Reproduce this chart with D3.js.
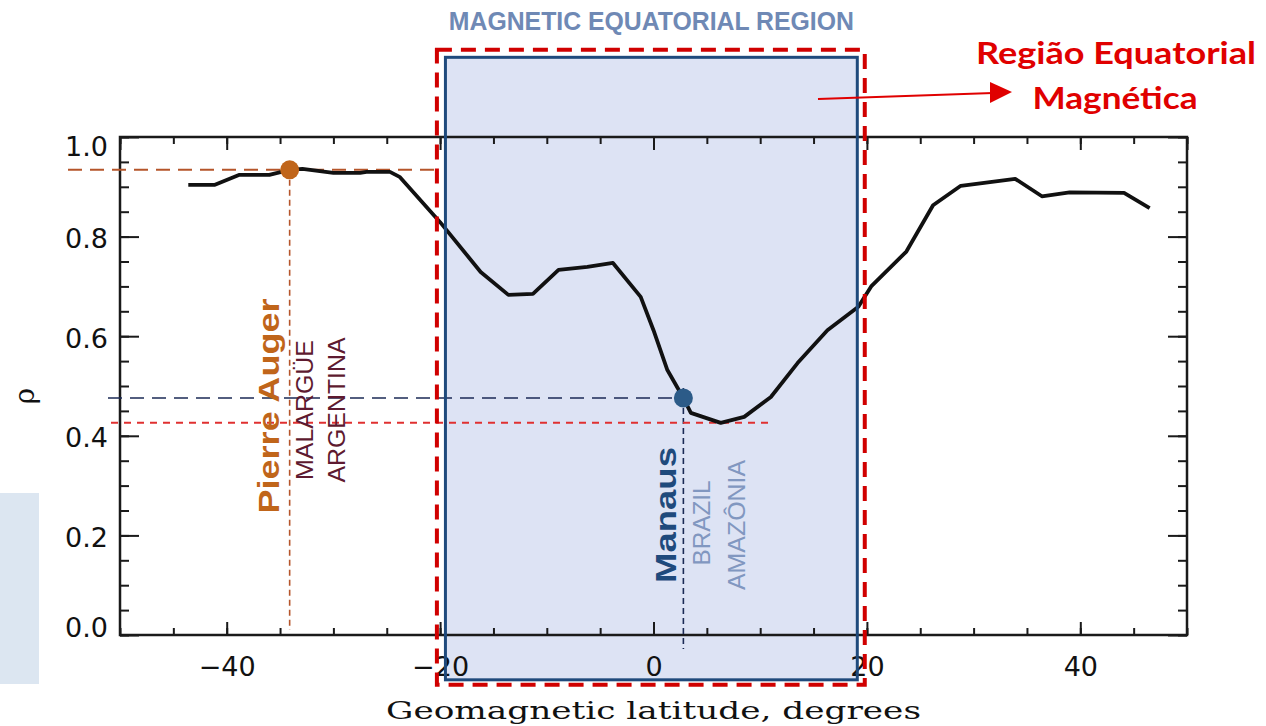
<!DOCTYPE html>
<html>
<head>
<meta charset="utf-8">
<script src="https://cdn.jsdelivr.net/npm/d3@7/dist/d3.min.js"></script>
<style>
  html, body { margin: 0; padding: 0; background: #fff; }
  svg { display: block; }
</style>
</head>
<body>
<svg id="chart" width="1266" height="726"></svg>
<script>
// ---------------- data ----------------
const latitude = [-43.6, -41.1, -38.8, -36.0, -34.1, -32.9, -30.0, -27.5, -26.9, -24.7, -23.8,
  -20.0, -16.2, -13.6, -11.3, -8.9, -6.2, -3.8, -1.2, 0.0, 1.3, 2.8, 3.5, 6.3, 8.5, 11.0,
  13.5, 16.3, 19.2, 20.4, 23.7, 26.2, 28.8, 33.9, 36.4, 39.0, 44.1, 46.5];
const rho = [0.904, 0.904, 0.924, 0.924, 0.934, 0.936, 0.928, 0.928, 0.930, 0.930, 0.920,
  0.829, 0.729, 0.683, 0.685, 0.733, 0.739, 0.747, 0.679, 0.612, 0.532, 0.476, 0.446, 0.426, 0.438, 0.478,
  0.546, 0.612, 0.659, 0.700, 0.770, 0.863, 0.902, 0.916, 0.881, 0.889, 0.888, 0.857];

const xTickValues = [-40, -20, 0, 20, 40];
const xTickLabels = ["\u221240", "\u221220", "0", "20", "40"];
const yTickValues = [0.0, 0.2, 0.4, 0.6, 0.8, 1.0];
const yTickLabels = ["0.0", "0.2", "0.4", "0.6", "0.8", "1.0"];

const sites = ["Pierre Auger", "Manaus"];
const siteLat = [-34.1, 2.8];
const siteRho = [0.934, 0.476];
const minRho = 0.426;
const minLat = 6.3;

const regionLat = [-19.5, 19.1];       // blue region box
const regionRho = [1.16, -0.09];
const dashLat = [-20.3, 19.8];         // red dashed outline
const dashRho = [1.175, -0.10];

const titleText = "MAGNETIC EQUATORIAL REGION";
const ptTitle = ["Região Equatorial", "Magnética"];
const xTitle = "Geomagnetic latitude, degrees";
const yTitle = "\u03c1";

// ---------------- scales ----------------
const x = d3.scaleLinear().domain([-50, 50]).range([120, 1187]);
const y = d3.scaleLinear().domain([0, 1]).range([635, 137]);

const svg = d3.select("#chart");

// left light-blue strip (decor)
svg.append("rect").attr("x", 0).attr("y", 493).attr("width", 39).attr("height", 191)
  .attr("fill", "#dce6f1");

// region fill
const bx0 = x(regionLat[0]), bx1 = x(regionLat[1]), by0 = y(regionRho[0]), by1 = y(regionRho[1]);
svg.append("rect").attr("x", bx0).attr("y", by0).attr("width", bx1 - bx0).attr("height", by1 - by0)
  .attr("fill", "#dde3f4");

// frame
svg.append("rect").attr("x", x(-50)).attr("y", y(1)).attr("width", x(50) - x(-50)).attr("height", y(0) - y(1))
  .attr("fill", "none").attr("stroke", "#1a1a1a").attr("stroke-width", 2.5);

const tickFont = "'DejaVu Sans', sans-serif";
function styleAxis(g) {
  g.select(".domain").remove();
  g.selectAll(".tick line").attr("stroke", "#1a1a1a").attr("stroke-width", 2);
  g.selectAll(".tick text").attr("fill", "#111").style("font-family", tickFont).style("font-size", "27px");
}
const xMinor = d3.range(-50, 51, 5);
const yMinor = d3.range(0, 1.0001, 0.05);

// bottom axis
svg.append("g").attr("transform", `translate(0,${y(0)})`)
  .call(d3.axisBottom(x).tickValues(xMinor).tickSize(-7).tickFormat(""))
  .call(styleAxis);
svg.append("g").attr("transform", `translate(0,${y(0)})`)
  .call(d3.axisBottom(x).tickValues(xTickValues).tickSize(-13).tickPadding(22)
    .tickFormat((d, i) => xTickLabels[i]))
  .call(styleAxis);
// top axis
svg.append("g").attr("transform", `translate(0,${y(1)})`)
  .call(d3.axisTop(x).tickValues(xMinor).tickSize(-7).tickFormat(""))
  .call(styleAxis);
svg.append("g").attr("transform", `translate(0,${y(1)})`)
  .call(d3.axisTop(x).tickValues(xTickValues.concat([-50, 50])).tickSize(-13).tickFormat(""))
  .call(styleAxis);
// left axis
svg.append("g").attr("transform", `translate(${x(-50)},0)`)
  .call(d3.axisLeft(y).tickValues(yMinor).tickSize(-9).tickFormat(""))
  .call(styleAxis);
const la = svg.append("g").attr("transform", `translate(${x(-50)},0)`)
  .call(d3.axisLeft(y).tickValues(yTickValues).tickSize(-19).tickPadding(12)
    .tickFormat((d, i) => yTickLabels[i]))
  .call(styleAxis);
la.selectAll(".tick text").attr("dy", d => d === 1 ? "0.68em" : (d === 0 ? "0.05em" : "0.40em"));
// right axis
svg.append("g").attr("transform", `translate(${x(50)},0)`)
  .call(d3.axisRight(y).tickValues(yMinor).tickSize(-9).tickFormat(""))
  .call(styleAxis);
svg.append("g").attr("transform", `translate(${x(50)},0)`)
  .call(d3.axisRight(y).tickValues(yTickValues).tickSize(-19).tickFormat(""))
  .call(styleAxis);

// axis titles
svg.append("text").attr("x", (x(-50) + x(50)) / 2 + 0).attr("y", 719).attr("text-anchor", "middle")
  .attr("font-family", "'DejaVu Serif', serif").attr("font-size", 25).attr("fill", "#111")
  .attr("textLength", 535).attr("lengthAdjust", "spacingAndGlyphs")
  .text(xTitle);
svg.append("text").attr("transform", `translate(34,${y(0.48)}) rotate(-90)`).attr("text-anchor", "middle")
  .attr("font-family", "'DejaVu Serif', serif").attr("font-size", 28).attr("fill", "#111")
  .text(yTitle);

// reference dashed lines
svg.append("line").attr("x1", 68).attr("x2", x(-20.3)).attr("y1", y(siteRho[0])).attr("y2", y(siteRho[0]))
  .attr("stroke", "#b5552a").attr("stroke-width", 2).attr("stroke-dasharray", "14,8");
svg.append("line").attr("x1", x(siteLat[0])).attr("x2", x(siteLat[0])).attr("y1", y(siteRho[0])).attr("y2", 630)
  .attr("stroke", "#b5552a").attr("stroke-width", 1.6).attr("stroke-dasharray", "6,4");
svg.append("line").attr("x1", 108).attr("x2", x(siteLat[1])).attr("y1", y(siteRho[1])).attr("y2", y(siteRho[1]))
  .attr("stroke", "#1b2a55").attr("stroke-width", 1.6).attr("stroke-dasharray", "14,8");
svg.append("line").attr("x1", x(siteLat[1])).attr("x2", x(siteLat[1])).attr("y1", y(siteRho[1]) - 10).attr("y2", 649)
  .attr("stroke", "#1b2a55").attr("stroke-width", 1.6).attr("stroke-dasharray", "6,4");
svg.append("line").attr("x1", 111).attr("x2", x(minLat) + 53).attr("y1", y(minRho)).attr("y2", y(minRho))
  .attr("stroke", "#e03030").attr("stroke-width", 2).attr("stroke-dasharray", "7,6");

// curve
const pts = latitude.map((d, i) => [d, rho[i]]);
svg.append("path").datum(pts)
  .attr("d", d3.line().x(d => x(d[0])).y(d => y(d[1])))
  .attr("fill", "none").attr("stroke", "#111").attr("stroke-width", 3.8)
  .attr("stroke-linejoin", "round");

// site dots
const dotColors = ["#c0651a", "#2c5b88"];
svg.selectAll("circle.site").data(sites).join("circle").attr("class", "site")
  .attr("cx", (d, i) => x(siteLat[i])).attr("cy", (d, i) => y(siteRho[i])).attr("r", 9.5)
  .attr("fill", (d, i) => dotColors[i]);

// region box outlines
svg.append("rect").attr("x", bx0).attr("y", by0).attr("width", bx1 - bx0).attr("height", by1 - by0)
  .attr("fill", "none").attr("stroke", "#1f4a7c").attr("stroke-width", 3);
const dx0 = x(dashLat[0]), dx1 = x(dashLat[1]), dy0 = y(dashRho[0]), dy1 = y(dashRho[1]);
svg.append("rect").attr("x", dx0).attr("y", dy0).attr("width", dx1 - dx0).attr("height", dy1 - dy0)
  .attr("fill", "none").attr("stroke", "#d00000").attr("stroke-width", 4).attr("stroke-dasharray", "15,9");

// title
svg.append("text").attr("x", (bx0 + bx1) / 2).attr("y", 30).attr("text-anchor", "middle")
  .attr("font-family", "'Liberation Sans', Arial, sans-serif").attr("font-size", 25).attr("font-weight", "bold")
  .attr("fill", "#6f89b5").attr("textLength", 405).attr("lengthAdjust", "spacingAndGlyphs")
  .text(titleText);

// Portuguese label + arrow
svg.append("text").attr("x", 1116).attr("y", 64).attr("text-anchor", "middle")
  .attr("font-family", "Lato, 'Open Sans', sans-serif").attr("font-weight", "bold").attr("font-size", 31)
  .attr("fill", "#e00000").attr("textLength", 280).attr("lengthAdjust", "spacingAndGlyphs")
  .text(ptTitle[0]);
svg.append("text").attr("x", 1115).attr("y", 109).attr("text-anchor", "middle")
  .attr("font-family", "Lato, 'Open Sans', sans-serif").attr("font-weight", "bold").attr("font-size", 31)
  .attr("fill", "#e00000").attr("textLength", 165).attr("lengthAdjust", "spacingAndGlyphs")
  .text(ptTitle[1]);
svg.append("line").attr("x1", 818).attr("y1", 99).attr("x2", 993).attr("y2", 93)
  .attr("stroke", "#e00000").attr("stroke-width", 2);
svg.append("path").attr("d", "M990,82 L1012,92 L990,103 Z").attr("fill", "#e00000");

// site labels (rotated)
function vtext(cx, cy, txt, size, color, weight, len) {
  svg.append("text").attr("transform", `translate(${cx},${cy}) rotate(-90)`)
    .attr("text-anchor", "middle").attr("dominant-baseline", "central")
    .attr("font-family", "'Liberation Sans', Arial, sans-serif").attr("font-size", size)
    .attr("font-weight", weight).attr("fill", color)
    .attr("textLength", len).attr("lengthAdjust", "spacingAndGlyphs")
    .text(txt);
}
const px = x(siteLat[0]), mx = x(siteLat[1]);
vtext(px - 21, 406, "Pierre Auger", 30, "#c0651a", "bold", 215);
vtext(px + 15, 410, "MALARGÜE", 23, "#5e1a30", "normal", 140);
vtext(px + 47, 410, "ARGENTINA", 23, "#5e1a30", "normal", 145);
vtext(mx - 18, 515, "Manaus", 30, "#1f4a7c", "bold", 136);
vtext(mx + 19, 523, "BRAZIL", 23, "#8197c0", "normal", 85);
vtext(mx + 54, 525, "AMAZÔNIA", 23, "#8197c0", "normal", 130);
</script>
</body>
</html>
